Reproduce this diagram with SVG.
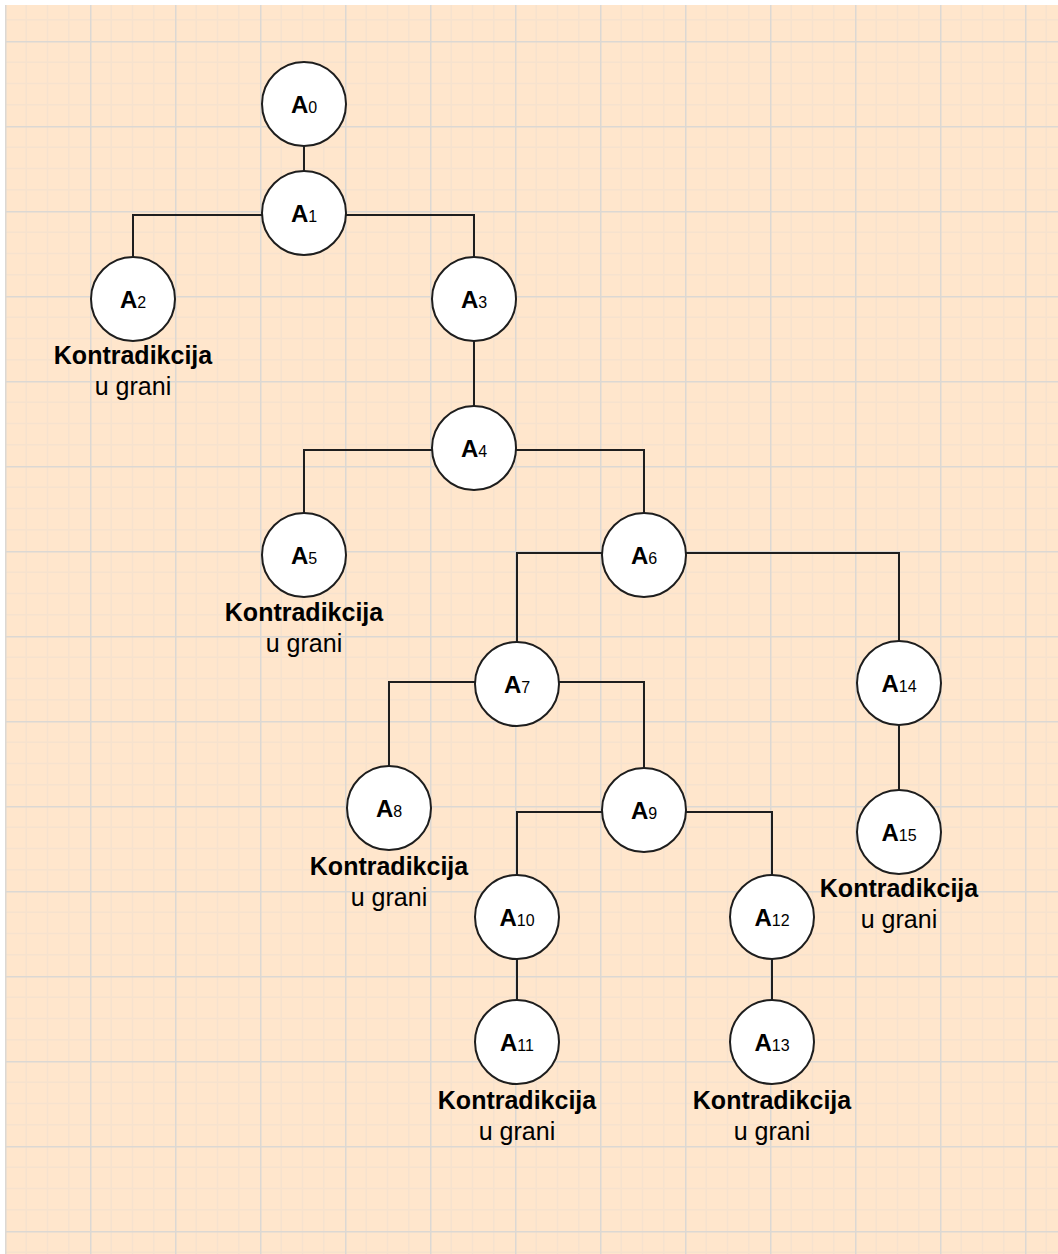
<svg xmlns="http://www.w3.org/2000/svg" width="1058" height="1254" viewBox="0 0 1058 1254">
<defs>
<pattern id="grid" patternUnits="userSpaceOnUse" x="5" y="41" width="85" height="85">
<path d="M21.25,0V85M42.5,0V85M63.75,0V85M0,21.25H85M0,42.5H85M0,63.75H85" stroke="#f6e2ce" stroke-width="1.5" fill="none"/>
<path d="M0.5,0V85M0,0.5H85" stroke="#dcd8d3" stroke-width="2" fill="none"/>
</pattern>
<style>
.n{fill:#fff;stroke:#1e1e1e;stroke-width:2}
.e{fill:none;stroke:#1e1e1e;stroke-width:2}
.l{font-family:"Liberation Sans",Arial,sans-serif;text-anchor:middle;fill:#000}
.a{font-size:24px;font-weight:bold}
.s{font-size:16px;font-weight:normal}
.k{font-size:25px;font-weight:bold}
.u{font-size:25px}
</style>
</defs>
<rect x="0" y="0" width="1058" height="1254" fill="#fff"/>
<rect x="5" y="5" width="1053" height="1249" fill="#ffe6cc"/>
<rect x="5" y="5" width="1053" height="1249" fill="url(#grid)"/>
<g id="connectors">
<path class="e" d="M304,146V171"/>
<path class="e" d="M262,215H133V257"/>
<path class="e" d="M346,215H474V257"/>
<path class="e" d="M474,341V406"/>
<path class="e" d="M432,450H304V513"/>
<path class="e" d="M516,450H644V513"/>
<path class="e" d="M602,553H517V642"/>
<path class="e" d="M686,553H899V641"/>
<path class="e" d="M475,682H389V766"/>
<path class="e" d="M559,682H644V768"/>
<path class="e" d="M602,812H517V875"/>
<path class="e" d="M686,812H772V875"/>
<path class="e" d="M517,959V1000"/>
<path class="e" d="M772,959V1000"/>
<path class="e" d="M899,725V790"/>
</g>
<g id="A0"><circle class="n" cx="304" cy="104" r="42"/><text class="l" x="304" y="113"><tspan class="a">A</tspan><tspan class="s">0</tspan></text></g>
<g id="A1"><circle class="n" cx="304" cy="213" r="42"/><text class="l" x="304" y="222"><tspan class="a">A</tspan><tspan class="s">1</tspan></text></g>
<g id="A2"><circle class="n" cx="133" cy="299" r="42"/><text class="l" x="133" y="308"><tspan class="a">A</tspan><tspan class="s">2</tspan></text>
<text class="l k" x="133" y="364">Kontradikcija</text><text class="l u" x="133" y="395">u grani</text></g>
<g id="A3"><circle class="n" cx="474" cy="299" r="42"/><text class="l" x="474" y="308"><tspan class="a">A</tspan><tspan class="s">3</tspan></text></g>
<g id="A4"><circle class="n" cx="474" cy="448" r="42"/><text class="l" x="474" y="457"><tspan class="a">A</tspan><tspan class="s">4</tspan></text></g>
<g id="A5"><circle class="n" cx="304" cy="555" r="42"/><text class="l" x="304" y="564"><tspan class="a">A</tspan><tspan class="s">5</tspan></text>
<text class="l k" x="304" y="621">Kontradikcija</text><text class="l u" x="304" y="652">u grani</text></g>
<g id="A6"><circle class="n" cx="644" cy="555" r="42"/><text class="l" x="644" y="564"><tspan class="a">A</tspan><tspan class="s">6</tspan></text></g>
<g id="A7"><circle class="n" cx="517" cy="684" r="42"/><text class="l" x="517" y="693"><tspan class="a">A</tspan><tspan class="s">7</tspan></text></g>
<g id="A8"><circle class="n" cx="389" cy="808" r="42"/><text class="l" x="389" y="817"><tspan class="a">A</tspan><tspan class="s">8</tspan></text>
<text class="l k" x="389" y="875">Kontradikcija</text><text class="l u" x="389" y="906">u grani</text></g>
<g id="A9"><circle class="n" cx="644" cy="810" r="42"/><text class="l" x="644" y="819"><tspan class="a">A</tspan><tspan class="s">9</tspan></text></g>
<g id="A10"><circle class="n" cx="517" cy="917" r="42"/><text class="l" x="517" y="926"><tspan class="a">A</tspan><tspan class="s">10</tspan></text></g>
<g id="A11"><circle class="n" cx="517" cy="1042" r="42"/><text class="l" x="517" y="1051"><tspan class="a">A</tspan><tspan class="s">11</tspan></text>
<text class="l k" x="517" y="1109">Kontradikcija</text><text class="l u" x="517" y="1140">u grani</text></g>
<g id="A12"><circle class="n" cx="772" cy="917" r="42"/><text class="l" x="772" y="926"><tspan class="a">A</tspan><tspan class="s">12</tspan></text></g>
<g id="A13"><circle class="n" cx="772" cy="1042" r="42"/><text class="l" x="772" y="1051"><tspan class="a">A</tspan><tspan class="s">13</tspan></text>
<text class="l k" x="772" y="1109">Kontradikcija</text><text class="l u" x="772" y="1140">u grani</text></g>
<g id="A14"><circle class="n" cx="899" cy="683" r="42"/><text class="l" x="899" y="692"><tspan class="a">A</tspan><tspan class="s">14</tspan></text></g>
<g id="A15"><circle class="n" cx="899" cy="832" r="42"/><text class="l" x="899" y="841"><tspan class="a">A</tspan><tspan class="s">15</tspan></text>
<text class="l k" x="899" y="897">Kontradikcija</text><text class="l u" x="899" y="928">u grani</text></g>
</svg>
